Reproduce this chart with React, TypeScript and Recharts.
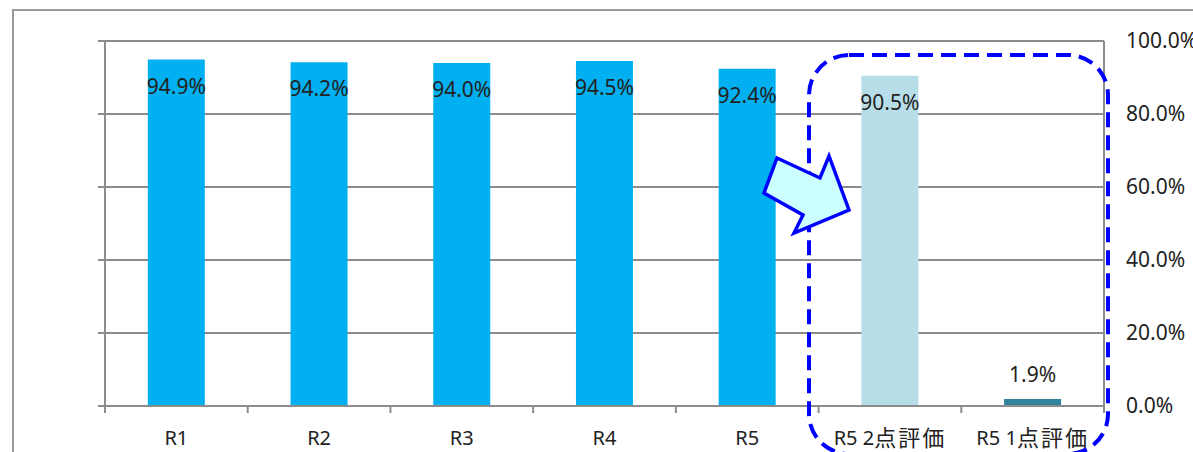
import React from 'react';
import { ComposedChart, Bar, Line, XAxis, YAxis, CartesianGrid, Cell, LabelList } from 'recharts';

const categories = ['R1', 'R2', 'R3', 'R4', 'R5', 'R5 2点評価', 'R5 1点評価'];
const rates = [94.9, 94.2, 94.0, 94.5, 92.4, 90.5, 1.9];
const barColors = ['#00B0F0', '#00B0F0', '#00B0F0', '#00B0F0', '#00B0F0', '#B7DEE8', '#31849B'];
const yTicks = [0, 20, 40, 60, 80, 100];
const boundaryTicks = [...categories.map((_, i) => i), categories.length];

const data = categories.map((name, i) => ({ name, rate: rates[i], pos: i + 0.5 }));

const FONT = '"Noto Sans", "Noto Sans CJK JP", sans-serif';
const GRID = '#8c8c8c';
const TEXT = '#222222';

const renderLabel = (props: any) => {
  const { x, y, width, value } = props;
  const inside = Number(value) > 10;
  const cy = inside ? Number(y) + 26 : Number(y) - 25;
  return (
    <text
      x={Number(x) + Number(width) / 2}
      y={cy}
      textAnchor="middle"
      dominantBaseline="central"
      fontSize={21}
      fill={TEXT}
      fontFamily={FONT}
    >
      {Number(value).toFixed(1)}%
    </text>
  );
};

const EmptyTick = () => <g />;

const CategoryTick = (props: any) => {
  const { x, y, payload } = props;
  const label: string = String(payload.value);
  const parts = label.match(/[\u3000-\u9fff]+|[^\u3000-\u9fff]+/g) || [label];
  return (
    <text x={x} y={Number(y) + 30} textAnchor="middle" dominantBaseline="central" fill={TEXT} fontFamily={FONT} fontSize={20}>
      {parts.map((p, i) =>
        /[\u3000-\u9fff]/.test(p) ? (
          <tspan key={i} fontSize={22} letterSpacing={2}>{p}</tspan>
        ) : (
          <tspan key={i}>{p}</tspan>
        )
      )}
    </text>
  );
};

export default function App() {
  return (
    <div style={{ position: 'absolute', left: 0, top: 0, width: 1193, height: 452, background: '#fff', overflow: 'hidden' }}>
      <ComposedChart
        width={1193}
        height={452}
        data={data}
        margin={{ top: 41, right: 0, bottom: 0, left: 0 }}
        barCategoryGap="30%"
      >
        <CartesianGrid yAxisId="left" xAxisId="b" vertical={false} stroke={GRID} strokeWidth={2} />
        <XAxis
          xAxisId="a"
          type="number"
          dataKey="pos"
          domain={[0, categories.length]}
          ticks={boundaryTicks}
          height={1}
          tick={EmptyTick}
          tickSize={7}
          axisLine={{ stroke: GRID, strokeWidth: 2 }}
          tickLine={{ stroke: GRID, strokeWidth: 2 }}
          allowDataOverflow
        />
        <XAxis
          xAxisId="b"
          dataKey="name"
          height={45}
          axisLine={false}
          tickLine={false}
          tickSize={0}
          tickMargin={0}
          interval={0}
          tick={CategoryTick}
        />
        <YAxis
          yAxisId="left"
          orientation="left"
          width={105}
          domain={[0, 100]}
          ticks={yTicks}
          tick={EmptyTick}
          tickSize={7}
          axisLine={{ stroke: GRID, strokeWidth: 2 }}
          tickLine={{ stroke: GRID, strokeWidth: 2 }}
        />
        <YAxis
          yAxisId="right"
          orientation="right"
          width={89}
          domain={[0, 100]}
          ticks={yTicks}
          tickSize={0}
          tickMargin={22}
          tickLine={false}
          axisLine={{ stroke: GRID, strokeWidth: 2 }}
          tickFormatter={(v: number) => `${v.toFixed(1)}%`}
          tick={{ fontSize: 21, fill: TEXT, fontFamily: FONT, textAnchor: 'start' }}
        />
        <Bar dataKey="rate" xAxisId="b" yAxisId="left" isAnimationActive={false}>
          {data.map((d, i) => (
            <Cell key={d.name} fill={barColors[i]} />
          ))}
          <LabelList dataKey="rate" content={renderLabel} />
        </Bar>
        <Line
          dataKey="rate"
          xAxisId="a"
          yAxisId="right"
          stroke="none"
          dot={false}
          activeDot={false}
          legendType="none"
          isAnimationActive={false}
        />
      </ComposedChart>
      <svg
        width={1193}
        height={452}
        style={{ position: 'absolute', left: 0, top: 0, pointerEvents: 'none' }}
      >
        <rect x={13} y={10} width={1250} height={520} fill="none" stroke="#9a9a9a" strokeWidth={2} />
        <rect
          x={809}
          y={55}
          width={299}
          height={399}
          rx={40}
          ry={40}
          fill="none"
          stroke="#0000FF"
          strokeWidth={4}
          strokeDasharray="15 8"
        />
        <polygon
          points="777,158 820,178 829,156 849,210 794,233 803,215 764,193"
          fill="#CCFFFF"
          stroke="#0000FF"
          strokeWidth={3.5}
          strokeLinejoin="miter"
        />
      </svg>
    </div>
  );
}
